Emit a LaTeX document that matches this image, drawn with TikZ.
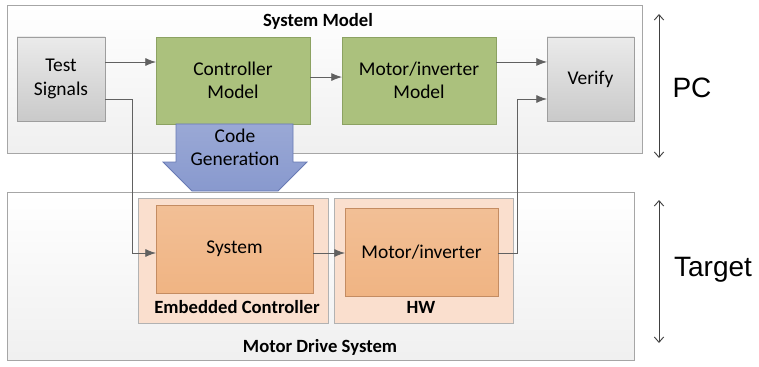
\documentclass[tikz,border=0pt]{standalone}
\usepackage{fontspec}
\setmainfont{Carlito}
\newfontfamily\sidefont{Liberation Sans}
\usetikzlibrary{arrows.meta,shadows}

\definecolor{modelgreen}{RGB}{171,193,125}
\definecolor{modelgreenD}{RGB}{140,162,98}
\definecolor{hworange}{RGB}{240,180,131}
\definecolor{hworangeD}{RGB}{196,140,98}
\definecolor{panelorange}{RGB}{250,223,206}
\definecolor{genblue}{RGB}{136,153,206}
\definecolor{genblueD}{RGB}{104,122,180}

\tikzset{
  every node/.style={inner sep=0pt, outer sep=0pt, align=center, font=\fontsize{14.6}{17.5}\selectfont},
  frame/.style={draw=black!35, line width=0.6pt, top color=white, bottom color=black!6,
    drop shadow={opacity=0.2, shadow xshift=1pt, shadow yshift=-1pt}},
  graybox/.style={draw=black!38, line width=0.6pt, top color=black!8, bottom color=black!21,
    drop shadow={opacity=0.2, shadow xshift=1pt, shadow yshift=-1pt}},
  modelbox/.style={draw=modelgreenD, line width=0.6pt, fill=modelgreen,
    drop shadow={opacity=0.2, shadow xshift=1pt, shadow yshift=-1pt}},
  hwpanel/.style={draw=black!30, line width=0.6pt, fill=panelorange},
  hwbox/.style={draw=hworangeD, line width=0.6pt, top color=hworange!85!white, bottom color=hworange},
  title/.style={font=\fontsize{14}{16.5}\selectfont\bfseries},
  link/.style={line width=0.6pt, -{Latex[length=8pt,width=6pt]}, color=black!62},
  span/.style={draw=black!75, line width=0.7pt, {Straight Barb[length=4pt,width=7pt]}-{Straight Barb[length=4pt,width=7pt]}}
}

\begin{document}
\begin{tikzpicture}[x=0.75pt,y=-0.75pt]
  \useasboundingbox (0,0) rectangle (759,367);

  \node[frame, minimum width=476.25pt, minimum height=111pt] (sysmodel) at (324.5,79) {};
  \node[title] (sysmodeltitle) at (318,21) {System Model};
  \node[graybox, minimum width=66pt, minimum height=63pt] (test) at (61,79) {Test\\Signals};
  \node[modelbox, minimum width=115.5pt, minimum height=65.25pt] (ctrl) at (233,80.5) {Controller\\Model};
  \node[modelbox, minimum width=115.5pt, minimum height=65.25pt] (motmodel) at (419,80.5) {Motor/inverter\\Model};
  \node[graybox, minimum width=65.25pt, minimum height=63pt] (verify) at (590.5,79) {Verify};

  \draw[draw=genblueD, line width=0.6pt, top color=genblue!85!white, bottom color=genblue]
    (176,124) -- (293,124) -- (293,162) -- (307,162) -- (278,191) -- (192,191) -- (163,162) -- (176,162) -- cycle;
  \node (codegen) at (235,147) {Code\\Generation};

  \node[frame, minimum width=470.25pt, minimum height=126pt] (drive) at (320.5,276) {};
  \node[title] (drivetitle) at (320,347) {Motor Drive System};
  \node[hwpanel, minimum width=142.5pt, minimum height=93.75pt] (embedded) at (233,260.5) {};
  \node[title] (embeddedtitle) at (237,307) {Embedded Controller};
  \node[hwpanel, minimum width=134.25pt, minimum height=93.75pt] (hw) at (423.5,260.5) {};
  \node[title] (hwtitle) at (421,307) {HW};
  \node[hwbox, minimum width=117.75pt, minimum height=66pt] (system) at (234.5,249) {System};
  \node[hwbox, minimum width=114.75pt, minimum height=66pt] (motinv) at (421.5,252) {Motor/inverter};

  \draw[link] ([yshift=12.75pt]test.east) -- ([yshift=12.75pt]test.east -| ctrl.west);
  \draw[link] ([yshift=2.6pt]ctrl.east) -- ([yshift=2.6pt]ctrl.east -| motmodel.west);
  \draw[link] ([yshift=13.9pt]motmodel.east) -- ([yshift=13.9pt]motmodel.east -| verify.west);
  \draw[link] ([yshift=-15pt]test.east) -- ++(27,0) |- ([yshift=-3pt]system.west);
  \draw[link] ([yshift=-3pt]system.east) -- ([yshift=-3pt]system.east -| motinv.west);
  \draw[link] ([yshift=-0.75pt]motinv.east) -- ++(19,0) |- ([yshift=-15pt]verify.west);

  \coordinate (pctop) at (659,14);
  \coordinate (pcbot) at (659,158);
  \coordinate (tgtop) at (659,200);
  \coordinate (tgbot) at (659,343);
  \draw[span] (pctop) -- (pcbot);
  \draw[span] (tgtop) -- (tgbot);
  \node[font=\sidefont\fontsize{21}{25}\selectfont] (pc) at (692,88) {PC};
  \node[font=\sidefont\fontsize{21}{25}\selectfont] (target) at (713,270) {Target};
\end{tikzpicture}
\end{document}
